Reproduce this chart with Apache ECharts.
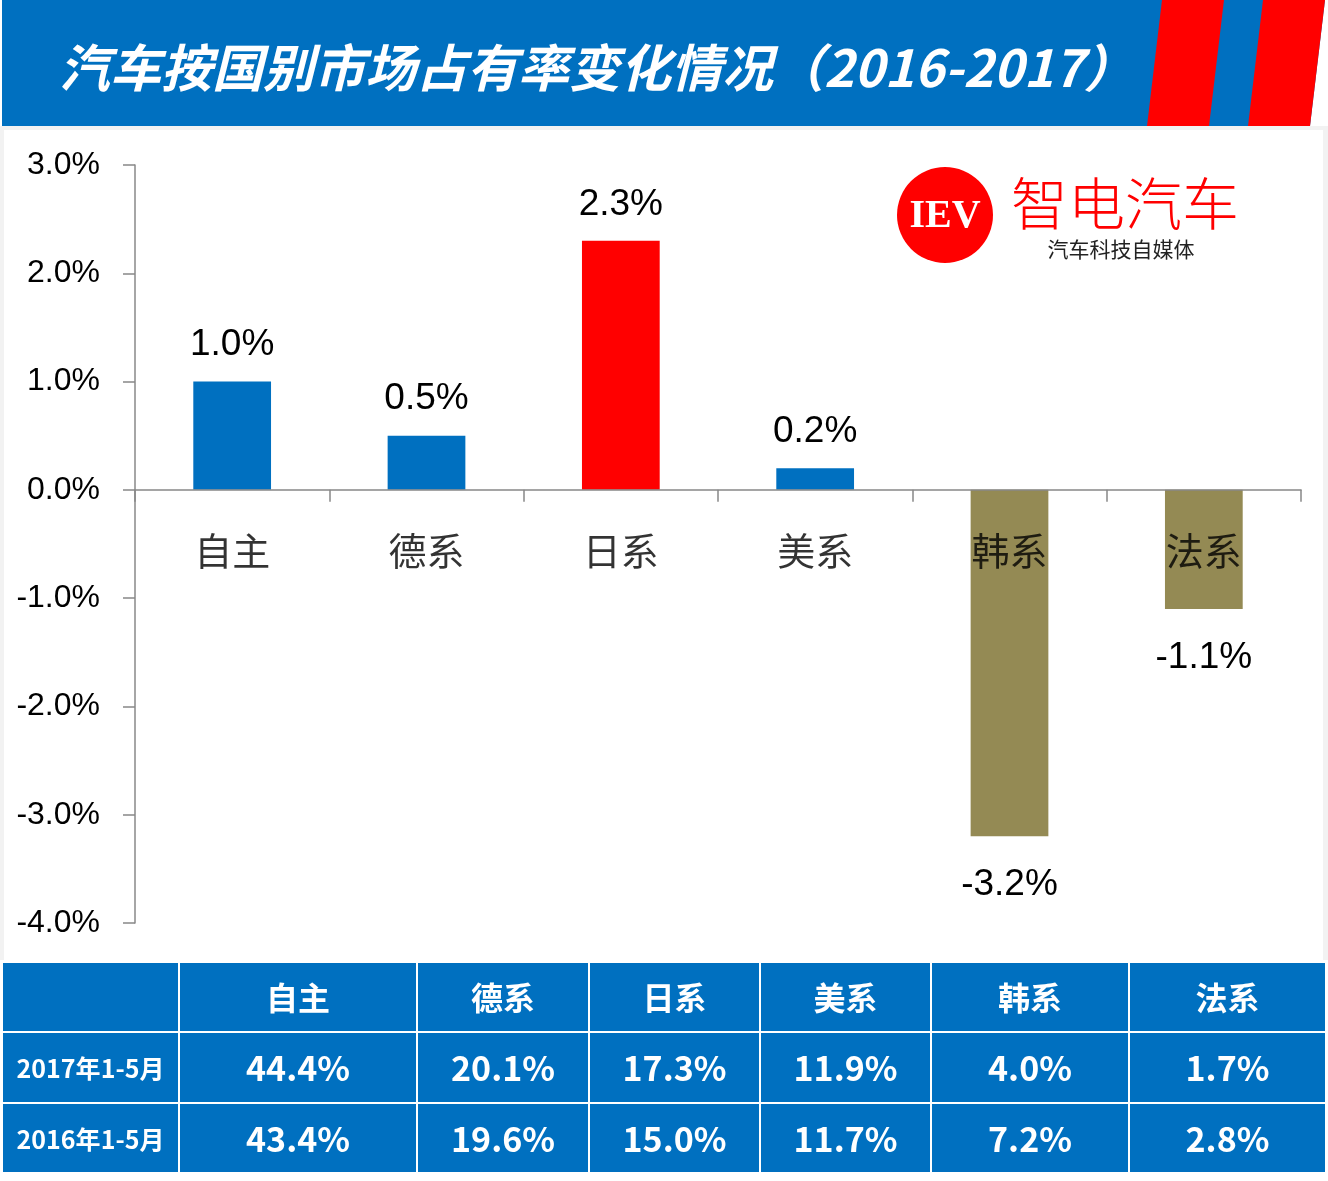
<!DOCTYPE html>
<html>
<head>
<meta charset="utf-8">
<script src="https://cdn.jsdelivr.net/npm/echarts@6/dist/echarts.min.js"></script>
<style>
html,body{margin:0;padding:0;background:#fff;}
#chart{width:1328px;height:1181px;}
</style>
</head>
<body>
<div id="chart"></div>
<script>
// ---- data ----
const titleText = '汽车按国别市场占有率变化情况（2016-2017）';
const categories = ['自主', '德系', '日系', '美系', '韩系', '法系'];
const changeValues = [1.0, 0.5, 2.3, 0.2, -3.2, -1.1];
const yMin = -4, yMax = 3, yInterval = 1;
const tableRowLabels = ['2017年1-5月', '2016年1-5月'];
const share2017 = [44.4, 20.1, 17.3, 11.9, 4.0, 1.7];
const share2016 = [43.4, 19.6, 15.0, 11.7, 7.2, 2.8];
const logoMark = 'IEV';
const logoName = '智电汽车';
const logoSlogan = '汽车科技自媒体';

// ---- styles ----
const BLUE = '#0070C0', RED = '#FF0000', OLIVE = '#948A54';
const barColors = [BLUE, BLUE, RED, BLUE, OLIVE, OLIVE];
const LATIN = '"Liberation Sans", Arial, sans-serif';
const CJK = '"Noto Sans CJK SC", "Noto Sans", sans-serif';

const chart = echarts.init(document.getElementById('chart'), null, {renderer: 'canvas'});

// table graphics
const colEdges = [2, 179, 417, 589, 760, 931, 1129, 1326];
const rowEdges = [962, 1032, 1103, 1173];
const tableRows = [
  [''].concat(categories),
  [tableRowLabels[0]].concat(share2017.map(v => v.toFixed(1) + '%')),
  [tableRowLabels[1]].concat(share2016.map(v => v.toFixed(1) + '%'))
];
const graphics = [];
// header
graphics.push({type: 'polygon', shape: {points: [[2, 0], [1325, 0], [1310, 126], [2, 126]]}, style: {fill: BLUE}, z: 0});
graphics.push({type: 'polygon', shape: {points: [[1162, 0], [1224, 0], [1209, 126], [1147, 126]]}, style: {fill: RED}, z: 1});
graphics.push({type: 'polygon', shape: {points: [[1263, 0], [1325, 0], [1310, 126], [1248, 126]]}, style: {fill: RED}, z: 1});
// plot frame
graphics.push({type: 'rect', shape: {x: 0, y: 126, width: 1328, height: 834}, style: {fill: '#F2F2F2'}, z: 0});
graphics.push({type: 'rect', shape: {x: 4, y: 130, width: 1319, height: 832}, style: {fill: '#FFFFFF'}, z: 0});
// logo
graphics.push({type: 'circle', shape: {cx: 945, cy: 215, r: 48}, style: {fill: RED}, z: 1});
graphics.push({type: 'text', x: 945, y: 217, style: {text: logoMark, fill: '#fff', font: 'bold 40px "Liberation Serif", "DejaVu Serif", serif', textAlign: 'center', textVerticalAlign: 'middle'}, z: 2});
graphics.push({type: 'text', x: 1125, y: 203, style: {text: logoName, fill: RED, font: '300 57px ' + CJK, textAlign: 'center', textVerticalAlign: 'middle'}, z: 2});
graphics.push({type: 'text', x: 1121, y: 249, style: {text: logoSlogan, fill: '#222', font: 'normal 21px ' + CJK, textAlign: 'center', textVerticalAlign: 'middle'}, z: 2});
// table cells
for (let r = 0; r < tableRows.length; r++) {
  for (let c = 0; c < colEdges.length - 1; c++) {
    const x0 = colEdges[c] + 1, x1 = colEdges[c + 1] - 1;
    const y0 = rowEdges[r] + 1, y1 = rowEdges[r + 1] - 1;
    graphics.push({type: 'rect', shape: {x: x0, y: y0, width: x1 - x0, height: y1 - y0}, style: {fill: BLUE}, z: 1});
    const txt = tableRows[r][c];
    if (txt) {
      const size = (c === 0) ? 25 : (r === 0 ? 32 : 34);
      graphics.push({type: 'text', x: (x0 + x1) / 2, y: (y0 + y1) / 2 + 1,
        style: {text: txt, fill: '#fff', font: 'bold ' + size + 'px ' + CJK, textAlign: 'center', textVerticalAlign: 'middle'}, z: 2});
    }
  }
}

const pct = v => v.toFixed(1) + '%';

const option = {
  animation: false,
  backgroundColor: '#fff',
  title: {
    text: titleText,
    left: 54, top: 37,
    textStyle: {color: '#fff', fontSize: 51, fontWeight: 'bold', fontStyle: 'italic', fontFamily: CJK}
  },
  graphic: {elements: graphics},
  grid: {left: 135, right: 27, top: 165, bottom: 258, containLabel: false},
  xAxis: {
    type: 'category',
    data: categories,
    z: 5,
    axisLine: {onZero: true, lineStyle: {color: '#888', width: 1.5}},
    axisTick: {show: true, length: 12, lineStyle: {color: '#888', width: 1.5}},
    axisLabel: {show: false}
  },
  yAxis: {
    type: 'value',
    min: yMin, max: yMax, interval: yInterval,
    axisLine: {show: true, lineStyle: {color: '#888', width: 1.5}},
    axisTick: {show: true, length: 12, lineStyle: {color: '#888', width: 1.5}},
    splitLine: {show: false},
    axisLabel: {color: '#000', fontSize: 32, fontFamily: LATIN, margin: 35, formatter: pct}
  },
  series: [{
    type: 'bar',
    barWidth: '40%',
    data: changeValues.map((v, i) => ({
      value: v,
      itemStyle: {color: barColors[i]},
      label: {position: v >= 0 ? 'top' : 'bottom', distance: v >= 0 ? 18 : 30}
    })),
    label: {show: true, color: '#000', fontSize: 37, fontFamily: LATIN, formatter: p => pct(p.value)}
  }, {
    // category names drawn at the zero line
    type: 'scatter',
    z: 6,
    symbolSize: 0,
    silent: true,
    data: categories.map(c => [c, 0]),
    label: {show: true, position: 'bottom', distance: 42, color: '#000', fontSize: 38, fontFamily: CJK, formatter: p => p.value[0]}
  }]
};
chart.setOption(option);
</script>
</body>
</html>
